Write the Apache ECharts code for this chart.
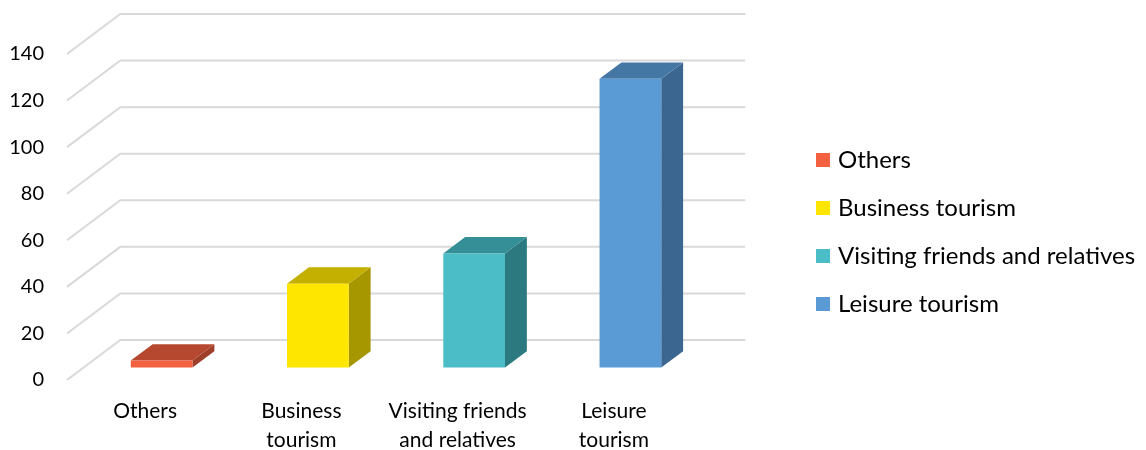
<!DOCTYPE html>
<html>
<head>
<meta charset="utf-8">
<script src="https://cdn.jsdelivr.net/npm/echarts@6/dist/echarts.min.js"></script>
<style>html,body{margin:0;padding:0;background:#fff;}#chart{width:1146px;height:450px;}</style>
</head>
<body>
<div id="chart"></div>
<script>
const categories = ['Others', 'Business tourism', 'Visiting friends and relatives', 'Leisure tourism'];
const axisLabels = ['Others', 'Business\ntourism', 'Visiting friends\nand relatives', 'Leisure\ntourism'];
const values = [3, 36, 49, 124];
const yTicks = [0, 20, 40, 60, 80, 100, 120, 140];
const frontColors = ['#F2613F', '#FFE600', '#4ABDC6', '#5B9BD5'];
const topColors = ['#B74830', '#C4B000', '#358F96', '#4577A5'];
const sideColors = ['#9F3F2A', '#A69600', '#2C7A80', '#3A6690'];

const FONT = 'Lato, Carlito, "Liberation Sans", sans-serif';
const DX = 53.3, DY = 40;           // full floor depth offset
const BAR_OFF = 0.31, BAR_DEPTH = 0.41, BAR_W = 0.395;

const chart = echarts.init(document.getElementById('chart'), null, {renderer: 'canvas'});

function gridRender(params, api) {
  const v = api.value(1);
  const cs = params.coordSys;
  const p = api.coord([0, v]);
  const y = p[1];
  const x0 = cs.x;
  const bx = x0 + DX, by = y - DY;
  return {
    type: 'polyline',
    shape: {points: [[x0, y], [bx, by], [bx + cs.width, by]]},
    style: {stroke: '#D9D9D9', lineWidth: 2, fill: null}
  };
}

function barRender(ci) {
  return function (params, api) {
    const idx = api.value(0), v = api.value(1);
    const base = api.coord([idx, 0]);
    const top = api.coord([idx, v]);
    const band = api.size([1, 0])[0];
    const w = band * BAR_W;
    const ox = DX * BAR_OFF, oy = -DY * BAR_OFF;
    const x0 = base[0] + ox - w / 2, x1 = x0 + w;
    const yb = base[1] + oy, yt = top[1] + oy;
    const ddx = DX * BAR_DEPTH, ddy = -DY * BAR_DEPTH;
    return {
      type: 'group',
      children: [
        {type: 'polygon', shape: {points: [[x1, yt], [x1 + ddx, yt + ddy], [x1 + ddx, yb + ddy], [x1, yb]]},
         style: {fill: sideColors[ci]}},
        {type: 'polygon', shape: {points: [[x0, yt], [x1, yt], [x1 + ddx, yt + ddy], [x0 + ddx, yt + ddy]]},
         style: {fill: topColors[ci]}},
        {type: 'rect', shape: {x: x0, y: yt, width: w, height: yb - yt},
         style: {fill: frontColors[ci]}}
      ]
    };
  };
}

const series = [{
  type: 'custom',
  name: '__grid',
  silent: true,
  z: 1,
  renderItem: gridRender,
  data: yTicks.map(v => [0, v]),
  encode: {x: 0, y: 1}
}];
categories.forEach((c, i) => {
  series.push({
    type: 'custom',
    name: c,
    z: 2,
    itemStyle: {color: frontColors[i]},
    renderItem: barRender(i),
    data: [[i, values[i]]],
    encode: {x: 0, y: 1}
  });
});

chart.setOption({
  animation: false,
  backgroundColor: '#fff',
  textStyle: {fontFamily: FONT},
  grid: {left: 67, right: 454, top: 54, bottom: 70, outerBoundsMode: 'none', containLabel: false},
  xAxis: {
    type: 'category',
    data: axisLabels,
    axisLine: {show: false},
    axisTick: {show: false},
    axisLabel: {color: '#000', fontSize: 21, fontFamily: FONT, margin: 17, lineHeight: 29, interval: 0}
  },
  yAxis: {
    type: 'value',
    min: 0, max: 140, interval: 20,
    axisLine: {show: false},
    axisTick: {show: false},
    splitLine: {show: false},
    axisLabel: {color: '#000', fontSize: 20, fontFamily: FONT, margin: 23, padding: [5, 0, 0, 0]}
  },
  legend: {
    orient: 'vertical',
    left: 811,
    top: 143,
    itemWidth: 14,
    itemHeight: 14,
    itemGap: 24,
    icon: 'rect',
    data: categories,
    textStyle: {color: '#000', fontSize: 24, fontFamily: FONT, lineHeight: 24, padding: [0, 0, 0, 3]}
  },
  series: series
});
</script>
</body>
</html>
